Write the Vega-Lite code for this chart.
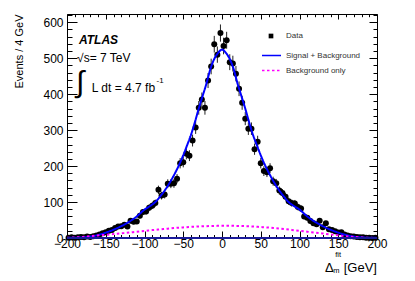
{
  "$schema": "https://vega.github.io/schema/vega-lite/v6.json",
  "width": 310,
  "height": 224,
  "autosize": {"type": "none"},
  "padding": {"left": 67, "top": 14, "right": 38, "bottom": 43},
  "background": "white",
  "config": {
    "view": {"stroke": "black", "strokeWidth": 1},
    "font": "Liberation Sans",
    "axis": {"grid": false, "domain": false, "labelFont": "Liberation Sans", "titleFont": "Liberation Sans"},
    "legend": {"labelFont": "Liberation Sans"}
  },
  "datasets": {
    "pts": [
      {"x": -198, "n": 1, "e": 1}, {"x": -194, "n": 2, "e": 1.4}, {"x": -190, "n": 1, "e": 1}, {"x": -186, "n": 2, "e": 1.4},
      {"x": -182, "n": 3, "e": 1.7}, {"x": -178, "n": 2, "e": 1.4}, {"x": -174, "n": 4, "e": 2}, {"x": -170, "n": 3, "e": 1.7},
      {"x": -166, "n": 5, "e": 2.2}, {"x": -162, "n": 7, "e": 2.6}, {"x": -158, "n": 10, "e": 3.2}, {"x": -154, "n": 13, "e": 3.6},
      {"x": -150, "n": 16, "e": 4}, {"x": -146, "n": 20, "e": 4.5}, {"x": -142, "n": 22, "e": 4.7}, {"x": -138, "n": 28, "e": 5.3},
      {"x": -134, "n": 32, "e": 5.7}, {"x": -130, "n": 33, "e": 5.7}, {"x": -126, "n": 37, "e": 6.1}, {"x": -122, "n": 32, "e": 5.7},
      {"x": -118, "n": 48, "e": 6.9}, {"x": -114, "n": 45, "e": 6.7}, {"x": -110, "n": 46, "e": 6.8}, {"x": -106, "n": 62, "e": 7.9},
      {"x": -102, "n": 72, "e": 8.5}, {"x": -98, "n": 74, "e": 8.6}, {"x": -94, "n": 84, "e": 9.2}, {"x": -90, "n": 90, "e": 9.5},
      {"x": -86, "n": 97, "e": 9.8}, {"x": -82, "n": 134, "e": 11.6}, {"x": -78, "n": 118, "e": 10.9}, {"x": -74, "n": 121, "e": 11},
      {"x": -70, "n": 151, "e": 12.3}, {"x": -66, "n": 151, "e": 12.3}, {"x": -62, "n": 152, "e": 12.3}, {"x": -58, "n": 165, "e": 12.8},
      {"x": -54, "n": 208, "e": 14.4}, {"x": -50, "n": 211, "e": 14.5}, {"x": -46, "n": 234, "e": 15.3}, {"x": -42, "n": 229, "e": 15.1},
      {"x": -38, "n": 271, "e": 16.5}, {"x": -34, "n": 307, "e": 17.5}, {"x": -30, "n": 362, "e": 19}, {"x": -26, "n": 385, "e": 19.6},
      {"x": -22, "n": 362, "e": 19}, {"x": -18, "n": 438, "e": 20.9}, {"x": -14, "n": 477, "e": 21.8}, {"x": -10, "n": 539, "e": 23.2},
      {"x": -6, "n": 510, "e": 22.6}, {"x": -2, "n": 570, "e": 23.9}, {"x": 2, "n": 534, "e": 23.1}, {"x": 6, "n": 550, "e": 23.5},
      {"x": 10, "n": 489, "e": 22.1}, {"x": 14, "n": 485, "e": 22}, {"x": 18, "n": 457, "e": 21.4}, {"x": 22, "n": 415, "e": 20.4},
      {"x": 26, "n": 376, "e": 19.4}, {"x": 30, "n": 332, "e": 18.2}, {"x": 34, "n": 304, "e": 17.4}, {"x": 38, "n": 304, "e": 17.4},
      {"x": 42, "n": 247, "e": 15.7}, {"x": 46, "n": 268, "e": 16.4}, {"x": 50, "n": 208, "e": 14.4}, {"x": 54, "n": 186, "e": 13.6},
      {"x": 58, "n": 183, "e": 13.5}, {"x": 62, "n": 194, "e": 13.9}, {"x": 66, "n": 158, "e": 12.6}, {"x": 70, "n": 152, "e": 12.3},
      {"x": 74, "n": 132, "e": 11.5}, {"x": 78, "n": 125, "e": 11.2}, {"x": 82, "n": 115, "e": 10.7}, {"x": 86, "n": 102, "e": 10.1},
      {"x": 90, "n": 97, "e": 9.8}, {"x": 94, "n": 96, "e": 9.8}, {"x": 98, "n": 86, "e": 9.3}, {"x": 102, "n": 82, "e": 9.1},
      {"x": 106, "n": 60, "e": 7.7}, {"x": 110, "n": 56, "e": 7.5}, {"x": 114, "n": 47, "e": 6.9}, {"x": 118, "n": 41, "e": 6.4},
      {"x": 122, "n": 38, "e": 6.2}, {"x": 126, "n": 48, "e": 6.9}, {"x": 130, "n": 30, "e": 5.5}, {"x": 134, "n": 41, "e": 6.4},
      {"x": 138, "n": 24, "e": 4.9}, {"x": 142, "n": 22, "e": 4.7}, {"x": 146, "n": 19, "e": 4.4}, {"x": 150, "n": 15, "e": 3.9},
      {"x": 154, "n": 16, "e": 4}, {"x": 158, "n": 10, "e": 3.2}, {"x": 162, "n": 7, "e": 2.6}, {"x": 166, "n": 5, "e": 2.2},
      {"x": 170, "n": 4, "e": 2}, {"x": 174, "n": 3, "e": 1.7}, {"x": 178, "n": 2, "e": 1.4}, {"x": 182, "n": 2, "e": 1.4},
      {"x": 186, "n": 1, "e": 1}, {"x": 190, "n": 1, "e": 1}, {"x": 194, "n": 0, "e": 0}, {"x": 198, "n": 1, "e": 1}
    ],
    "fit": [
      {"x": -200, "y": 0.3}, {"x": -190, "y": 0.7}, {"x": -180, "y": 1.8}, {"x": -170, "y": 4}, {"x": -160, "y": 8.5},
      {"x": -150, "y": 15}, {"x": -140, "y": 23}, {"x": -130, "y": 33}, {"x": -120, "y": 45}, {"x": -110, "y": 60},
      {"x": -100, "y": 79}, {"x": -95, "y": 86}, {"x": -90, "y": 93}, {"x": -85, "y": 102}, {"x": -80, "y": 115},
      {"x": -75, "y": 129}, {"x": -70, "y": 145}, {"x": -65, "y": 163}, {"x": -60, "y": 183}, {"x": -55, "y": 205},
      {"x": -50, "y": 230}, {"x": -45, "y": 258}, {"x": -40, "y": 287}, {"x": -35, "y": 322}, {"x": -30, "y": 360},
      {"x": -25, "y": 395}, {"x": -20, "y": 430}, {"x": -15, "y": 470}, {"x": -10, "y": 498}, {"x": -5, "y": 515},
      {"x": 0, "y": 524},
      {"x": 5, "y": 515}, {"x": 10, "y": 498}, {"x": 15, "y": 470}, {"x": 20, "y": 430}, {"x": 25, "y": 395},
      {"x": 30, "y": 360}, {"x": 35, "y": 322}, {"x": 40, "y": 287}, {"x": 45, "y": 258}, {"x": 50, "y": 230},
      {"x": 55, "y": 205}, {"x": 60, "y": 183}, {"x": 65, "y": 163}, {"x": 70, "y": 145}, {"x": 75, "y": 129},
      {"x": 80, "y": 115}, {"x": 85, "y": 102}, {"x": 90, "y": 93}, {"x": 95, "y": 86}, {"x": 100, "y": 79},
      {"x": 110, "y": 60}, {"x": 120, "y": 45}, {"x": 130, "y": 33}, {"x": 140, "y": 23}, {"x": 150, "y": 15},
      {"x": 160, "y": 8.5}, {"x": 170, "y": 4}, {"x": 180, "y": 1.8}, {"x": 190, "y": 0.7}, {"x": 200, "y": 0.3}
    ],
    "bkg": [
      {"x": -200, "y": 0.5}, {"x": -190, "y": 1.5}, {"x": -180, "y": 3}, {"x": -170, "y": 5}, {"x": -160, "y": 7},
      {"x": -150, "y": 9}, {"x": -140, "y": 11}, {"x": -130, "y": 13}, {"x": -120, "y": 15}, {"x": -110, "y": 17.5},
      {"x": -100, "y": 19.5}, {"x": -90, "y": 22}, {"x": -80, "y": 24}, {"x": -70, "y": 26}, {"x": -60, "y": 28},
      {"x": -50, "y": 29.5}, {"x": -40, "y": 31}, {"x": -30, "y": 32}, {"x": -20, "y": 33}, {"x": -10, "y": 33.5},
      {"x": 0, "y": 34}, {"x": 10, "y": 34}, {"x": 20, "y": 33.5}, {"x": 30, "y": 33}, {"x": 40, "y": 32},
      {"x": 50, "y": 30.5}, {"x": 60, "y": 29}, {"x": 70, "y": 27}, {"x": 80, "y": 25}, {"x": 90, "y": 22.5},
      {"x": 100, "y": 20}, {"x": 110, "y": 17.5}, {"x": 120, "y": 15}, {"x": 130, "y": 12.5}, {"x": 140, "y": 10},
      {"x": 150, "y": 7.5}, {"x": 160, "y": 5}, {"x": 170, "y": 3}, {"x": 180, "y": 1.5}, {"x": 190, "y": 0.5}, {"x": 200, "y": 0}
    ]
  },
  "resolve": {"axis": {"x": "independent", "y": "independent"}},
  "layer": [
    {
      "data": {"name": "pts"},
      "mark": {"type": "errorbar", "color": "#222222", "thickness": 1},
      "encoding": {
        "x": {"field": "x", "type": "quantitative", "axis": null, "scale": {"domain": [-200, 200], "nice": false, "zero": false}},
        "y": {"field": "n", "type": "quantitative", "axis": null, "scale": {"domain": [0, 623], "nice": false, "zero": false}},
        "yError": {"field": "e"}
      }
    },
    {
      "data": {"name": "pts"},
      "mark": {"type": "point", "filled": true, "size": 36, "opacity": 1, "color": "black"},
      "encoding": {
        "x": {"field": "x", "type": "quantitative", "scale": {"domain": [-200, 200], "nice": false, "zero": false},
          "axis": {"orient": "bottom", "values": [-200, -150, -100, -50, 0, 50, 100, 150, 200], "ticks": false, "labelPadding": 0, "labelFontSize": 12, "labelColor": "black", "labelOverlap": false, "labelBound": false, "labelFlush": false, "title": null}},
        "y": {"field": "n", "type": "quantitative", "scale": {"domain": [0, 623], "nice": false, "zero": false},
          "axis": {"orient": "left", "values": [0, 100, 200, 300, 400, 500, 600], "ticks": false, "labelPadding": 4, "labelFontSize": 12, "labelColor": "black", "labelOverlap": false, "labelBound": false, "labelFlush": false,
            "title": "Events / 4 GeV", "titleFontSize": 11, "titleFontWeight": "normal", "titleColor": "black", "titleAngle": 270, "titleAlign": "right", "titleBaseline": "top", "titleX": -54, "titleY": 0}}
      }
    },
    {
      "data": {"values": []},
      "mark": {"type": "point", "filled": true, "size": 22, "opacity": 1, "color": "black"},
      "encoding": {
        "x": {"field": "x", "type": "quantitative", "axis": null},
        "y": {"field": "y", "type": "quantitative", "axis": null},
        "shape": {"datum": "Data", "type": "nominal", "scale": {"domain": ["Data"], "range": ["square"]},
          "legend": {"title": null, "orient": "none", "legendX": 200, "legendY": 18, "padding": 0, "symbolSize": 22, "symbolFillColor": "black", "symbolStrokeWidth": 0, "labelOffset": 11, "labelFontSize": 8, "labelColor": "#333333", "rowPadding": 0}}
      }
    },
    {
      "data": {"name": "fit"},
      "mark": {"type": "line", "strokeWidth": 2, "interpolate": "monotone"},
      "encoding": {
        "x": {"field": "x", "type": "quantitative", "scale": {"domain": [-200, 200], "nice": false, "zero": false},
          "axis": {"orient": "bottom", "values": [-200, -150, -100, -50, 0, 50, 100, 150, 200], "labels": false, "ticks": true, "tickSize": -7, "tickColor": "black", "tickWidth": 1, "title": null}},
        "y": {"field": "y", "type": "quantitative", "scale": {"domain": [0, 623], "nice": false, "zero": false},
          "axis": {"orient": "left", "values": [0, 100, 200, 300, 400, 500, 600], "labels": false, "ticks": true, "tickSize": -10, "tickColor": "black", "tickWidth": 1, "title": null}},
        "color": {"datum": "Signal + Background", "type": "nominal",
          "scale": {"domain": ["Signal + Background", "Background only"], "range": ["#0000ff", "#ff00ff"]},
          "legend": {"title": null, "orient": "none", "legendX": 194, "legendY": 31, "padding": 0, "symbolType": "stroke", "symbolSize": 361, "symbolStrokeWidth": 1.5, "rowPadding": -1, "labelOffset": 4, "labelFontSize": 8, "labelColor": "#333333"}},
        "strokeDash": {"datum": "Signal + Background", "type": "nominal",
          "scale": {"domain": ["Signal + Background", "Background only"], "range": [[1, 0], [2.5, 2.5]]},
          "legend": {"title": null, "orient": "none", "legendX": 194, "legendY": 31, "padding": 0, "symbolType": "stroke", "symbolSize": 361, "symbolStrokeWidth": 1.5, "rowPadding": -1, "labelOffset": 4, "labelFontSize": 8, "labelColor": "#333333"}}
      }
    },
    {
      "data": {"name": "bkg"},
      "mark": {"type": "line", "strokeWidth": 2, "interpolate": "monotone"},
      "encoding": {
        "x": {"field": "x", "type": "quantitative",
          "axis": {"orient": "bottom", "values": [-190, -180, -170, -160, -140, -130, -120, -110, -90, -80, -70, -60, -40, -30, -20, -10, 10, 20, 30, 40, 60, 70, 80, 90, 110, 120, 130, 140, 160, 170, 180, 190], "labels": false, "ticks": true, "tickSize": -3.5, "tickColor": "black", "tickWidth": 1, "title": null}},
        "y": {"field": "y", "type": "quantitative",
          "axis": {"orient": "left", "values": [20, 40, 60, 80, 120, 140, 160, 180, 220, 240, 260, 280, 320, 340, 360, 380, 420, 440, 460, 480, 520, 540, 560, 580, 620], "labels": false, "ticks": true, "tickSize": -5, "tickColor": "black", "tickWidth": 1, "title": null}},
        "color": {"datum": "Background only", "type": "nominal"},
        "strokeDash": {"datum": "Background only", "type": "nominal"}
      }
    },
    {
      "data": {"values": [{}]},
      "mark": {"type": "rule", "color": "#1a1a9a", "strokeWidth": 2},
      "encoding": {
        "x": {"datum": -200, "type": "quantitative",
          "axis": {"orient": "top", "values": [-200, -150, -100, -50, 0, 50, 100, 150, 200], "labels": false, "ticks": true, "tickSize": -5, "tickColor": "black", "tickWidth": 1, "title": null}},
        "x2": {"datum": 200},
        "y": {"datum": 0, "type": "quantitative",
          "axis": {"orient": "right", "values": [0, 100, 200, 300, 400, 500, 600], "labels": false, "ticks": true, "tickSize": -8, "tickColor": "black", "tickWidth": 1, "title": null}}
      }
    },
    {
      "data": {"values": [{}]},
      "mark": {"type": "text", "text": "ATLAS", "font": "Liberation Sans", "fontSize": 12, "fontWeight": "bold", "fontStyle": "italic", "align": "left", "baseline": "alphabetic", "color": "black"},
      "encoding": {
        "x": {"datum": -184.5, "type": "quantitative",
          "axis": {"orient": "top", "values": [-190, -180, -170, -160, -140, -130, -120, -110, -90, -80, -70, -60, -40, -30, -20, -10, 10, 20, 30, 40, 60, 70, 80, 90, 110, 120, 130, 140, 160, 170, 180, 190], "labels": false, "ticks": true, "tickSize": -2.7, "tickColor": "black", "tickWidth": 1, "title": null}},
        "y": {"datum": 539.5, "type": "quantitative",
          "axis": {"orient": "right", "values": [20, 40, 60, 80, 120, 140, 160, 180, 220, 240, 260, 280, 320, 340, 360, 380, 420, 440, 460, 480, 520, 540, 560, 580, 620], "labels": false, "ticks": true, "tickSize": -4, "tickColor": "black", "tickWidth": 1, "title": null}}
      }
    },
    {
      "data": {"values": [{}]},
      "mark": {"type": "text", "text": "√s= 7 TeV", "font": "Liberation Sans", "fontSize": 12, "align": "left", "baseline": "alphabetic", "color": "black"},
      "encoding": {"x": {"datum": -187, "type": "quantitative", "axis": null}, "y": {"datum": 490, "type": "quantitative", "axis": null}}
    },
    {
      "data": {"values": [{}]},
      "mark": {"type": "text", "text": "∫", "font": "Liberation Sans", "fontSize": 30, "align": "center", "baseline": "alphabetic", "color": "black"},
      "encoding": {"x": {"datum": -183.2, "type": "quantitative", "axis": null}, "y": {"datum": 406, "type": "quantitative", "axis": null}}
    },
    {
      "data": {"values": [{}]},
      "mark": {"type": "text", "text": "L dt = 4.7 fb", "font": "Liberation Sans", "fontSize": 12, "align": "left", "baseline": "alphabetic", "color": "black"},
      "encoding": {"x": {"datum": -168, "type": "quantitative", "axis": null}, "y": {"datum": 407, "type": "quantitative", "axis": null}}
    },
    {
      "data": {"values": [{}]},
      "mark": {"type": "text", "text": "-1", "font": "Liberation Sans", "fontSize": 8, "align": "left", "baseline": "alphabetic", "color": "black"},
      "encoding": {"x": {"datum": -84.5, "type": "quantitative", "axis": null}, "y": {"datum": 431, "type": "quantitative", "axis": null}}
    },
    {
      "data": {"values": [{}]},
      "mark": {"type": "text", "text": "Δ", "font": "Liberation Sans", "fontSize": 13, "align": "left", "baseline": "alphabetic", "color": "black"},
      "encoding": {"x": {"datum": 133, "type": "quantitative", "axis": null}, "y": {"datum": -93.7, "type": "quantitative", "axis": null}}
    },
    {
      "data": {"values": [{}]},
      "mark": {"type": "text", "text": "fit", "font": "Liberation Sans", "fontSize": 7.5, "align": "left", "baseline": "alphabetic", "color": "black"},
      "encoding": {"x": {"datum": 146, "type": "quantitative", "axis": null}, "y": {"datum": -54, "type": "quantitative", "axis": null}}
    },
    {
      "data": {"values": [{}]},
      "mark": {"type": "text", "text": "m", "font": "Liberation Sans", "fontSize": 7.5, "align": "left", "baseline": "alphabetic", "color": "black"},
      "encoding": {"x": {"datum": 143.6, "type": "quantitative", "axis": null}, "y": {"datum": -97.3, "type": "quantitative", "axis": null}}
    },
    {
      "data": {"values": [{}]},
      "mark": {"type": "text", "text": "[GeV]", "font": "Liberation Sans", "fontSize": 13, "align": "right", "baseline": "alphabetic", "color": "black"},
      "encoding": {"x": {"datum": 200, "type": "quantitative", "axis": null}, "y": {"datum": -93.7, "type": "quantitative", "axis": null}}
    }
  ]
}
